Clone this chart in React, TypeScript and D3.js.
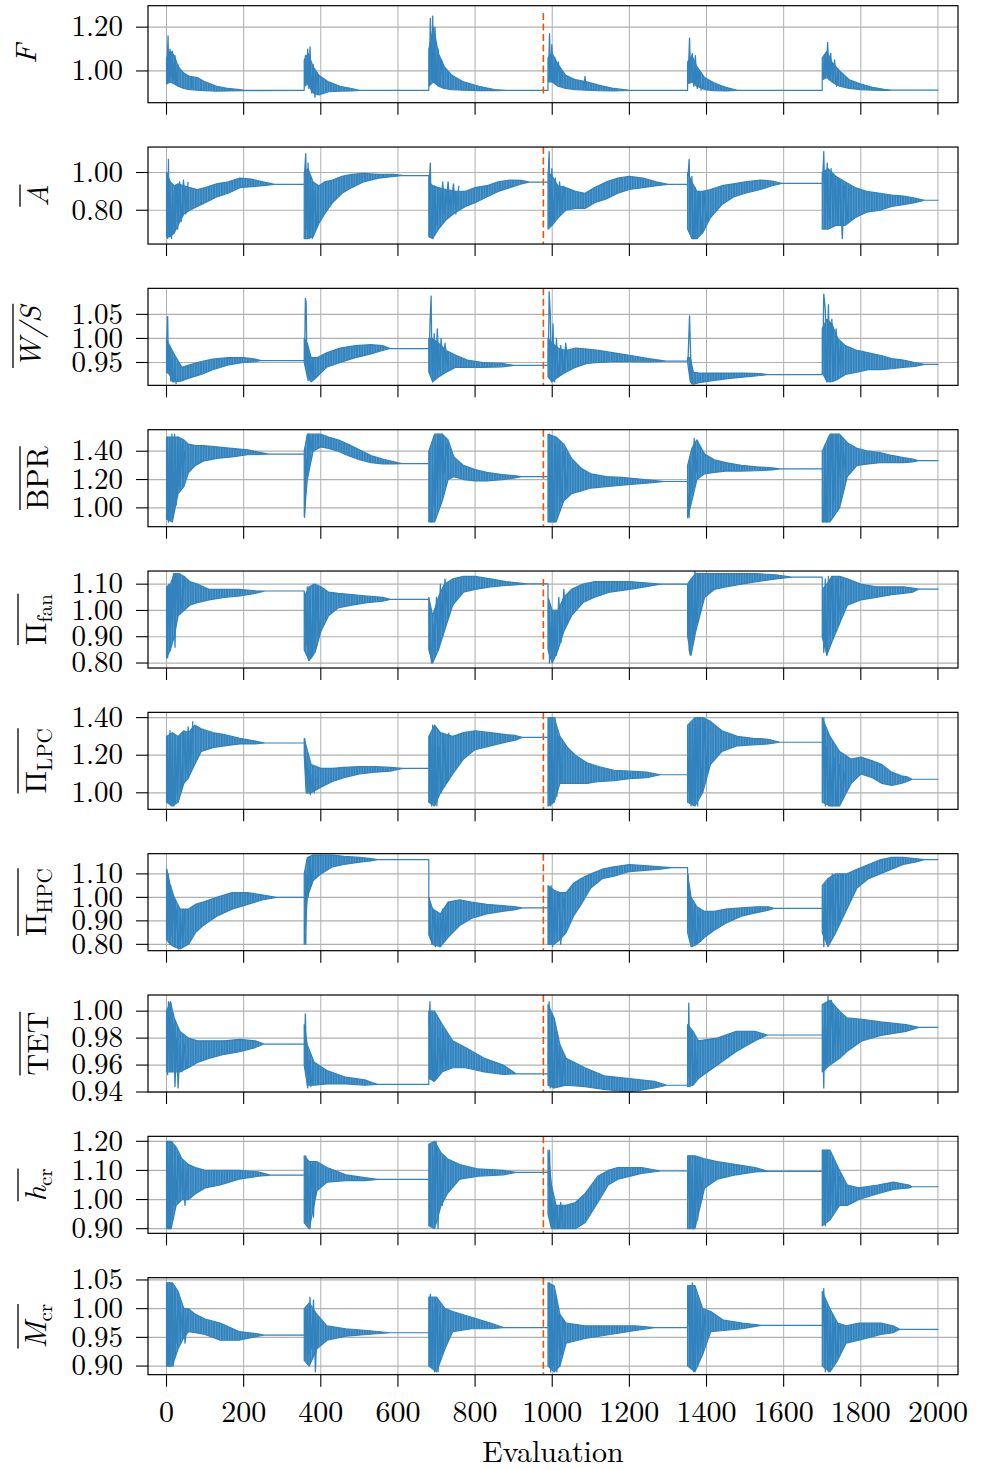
import React, { useEffect, useRef } from "react";
import * as d3 from "d3";

type Band = [number, number, number][];
type Pts = [number, number][];

const X_TICKS = [0, 200, 400, 600, 800, 1000, 1200, 1400, 1600, 1800, 2000];
const DASH_X = 977;

// ---------- F ----------
const F_DOMAIN = [0.855, 1.298];
const F_TICKS = [1.0, 1.2];
const F_DASH = [0.89, 1.265];
const F_BAND: Band = [
  [0, 0.94, 1.06], [10, 0.95, 1.09], [20, 0.94, 1.07], [30, 0.93, 1.02], [45, 0.92, 0.99], [60, 0.915, 0.975], [80, 0.912, 0.97], [100, 0.91, 0.95], [130, 0.908, 0.93], [160, 0.909, 0.92], [200, 0.91, 0.912], [357, 0.911, 0.911],
  [357, 0.93, 1.05], [367, 0.94, 1.08], [380, 0.9, 1.02], [395, 0.89, 0.98], [420, 0.905, 0.95], [450, 0.908, 0.93], [480, 0.909, 0.92], [500, 0.911, 0.911], [680, 0.911, 0.911],
  [680, 0.93, 1.1], [692, 0.95, 1.2], [705, 0.93, 1.08], [720, 0.92, 1.02], [740, 0.915, 0.98], [770, 0.912, 0.95], [810, 0.91, 0.93], [850, 0.91, 0.915], [880, 0.911, 0.911], [989, 0.911, 0.911],
  [989, 0.95, 1.06], [1000, 0.95, 1.08], [1015, 0.93, 1.03], [1035, 0.92, 0.98], [1060, 0.915, 0.96], [1090, 0.912, 0.95], [1120, 0.91, 0.935], [1160, 0.909, 0.92], [1200, 0.911, 0.911], [1351, 0.911, 0.911],
  [1351, 0.94, 1.04], [1362, 0.95, 1.07], [1375, 0.93, 1.02], [1395, 0.915, 0.97], [1420, 0.91, 0.945], [1450, 0.909, 0.925], [1480, 0.911, 0.911], [1700, 0.911, 0.911],
  [1700, 0.96, 1.06], [1712, 0.97, 1.09], [1725, 0.95, 1.04], [1745, 0.93, 1.0], [1770, 0.92, 0.96], [1800, 0.915, 0.94], [1830, 0.912, 0.925], [1860, 0.911, 0.916], [1880, 0.912, 0.912], [2000, 0.912, 0.912],
];
const F_SPIKES: Pts = [
  [2, 1.05], [4, 1.16], [6, 0.95], [9, 1.1], [12, 0.97], [15, 1.09], [18, 0.96], [22, 1.07], [26, 0.94], [30, 1.03],
  [62, 0.92], [64, 0.975], [66, 0.92],
  [358, 0.93], [360, 1.07], [363, 0.95], [366, 1.1], [369, 0.92], [372, 1.11], [376, 0.9], [380, 1.03], [385, 0.88], [390, 0.99], [395, 0.91],
  [681, 0.93], [684, 1.24], [687, 0.96], [690, 1.25], [693, 0.95], [696, 1.2], [700, 0.94], [704, 1.1], [708, 0.93], [713, 1.05], [718, 0.92],
  [990, 0.95], [993, 1.17], [996, 0.96], [999, 1.12], [1003, 0.95], [1007, 1.06], [1011, 0.95], [1016, 1.04], [1021, 0.93], [1026, 1.0],
  [1082, 0.92], [1085, 0.975], [1088, 0.92],
  [1352, 0.94], [1356, 1.15], [1359, 0.95], [1363, 1.08], [1367, 0.93], [1371, 1.07], [1376, 0.92], [1381, 1.0], [1386, 0.91],
  [1702, 0.96], [1706, 1.06], [1710, 0.98], [1714, 1.13], [1718, 0.96], [1722, 1.08], [1727, 0.95], [1732, 1.05], [1737, 0.93], [1742, 1.01],
];

// ---------- A ----------
const A_DOMAIN = [0.621, 1.135];
const A_TICKS = [0.8, 1.0];
const A_DASH = [0.621, 1.135];
const A_BAND: Band = [
  [0, 0.66, 1.0], [10, 0.66, 0.95], [20, 0.68, 0.93], [30, 0.72, 0.94], [45, 0.78, 0.93], [60, 0.8, 0.92], [80, 0.82, 0.91], [100, 0.84, 0.92], [130, 0.87, 0.94], [160, 0.89, 0.95], [190, 0.92, 0.97], [220, 0.925, 0.965], [250, 0.93, 0.95], [280, 0.937, 0.937], [357, 0.937, 0.937],
  [357, 0.65, 1.0], [367, 0.65, 1.02], [380, 0.66, 0.95], [395, 0.73, 0.93], [410, 0.78, 0.95], [430, 0.84, 0.96], [455, 0.89, 0.98], [480, 0.92, 0.99], [510, 0.95, 0.995], [550, 0.97, 0.99], [590, 0.98, 0.99], [615, 0.984, 0.984], [680, 0.984, 0.984],
  [680, 0.66, 0.95], [690, 0.65, 0.93], [705, 0.7, 0.92], [725, 0.75, 0.91], [750, 0.79, 0.9], [775, 0.82, 0.9], [800, 0.84, 0.92], [830, 0.87, 0.93], [860, 0.9, 0.95], [890, 0.92, 0.96], [920, 0.94, 0.958], [940, 0.949, 0.949], [989, 0.949, 0.949],
  [989, 0.7, 1.0], [1000, 0.72, 0.98], [1015, 0.76, 0.93], [1035, 0.8, 0.92], [1060, 0.81, 0.9], [1085, 0.81, 0.89], [1110, 0.84, 0.92], [1140, 0.86, 0.95], [1170, 0.89, 0.97], [1200, 0.91, 0.98], [1235, 0.92, 0.97], [1270, 0.93, 0.95], [1300, 0.937, 0.937], [1351, 0.937, 0.937],
  [1351, 0.7, 1.0], [1362, 0.65, 0.95], [1375, 0.65, 0.9], [1390, 0.68, 0.9], [1410, 0.76, 0.91], [1440, 0.83, 0.93], [1470, 0.87, 0.94], [1500, 0.89, 0.95], [1540, 0.91, 0.96], [1570, 0.93, 0.955], [1595, 0.942, 0.942], [1700, 0.942, 0.942],
  [1700, 0.7, 1.0], [1715, 0.7, 1.02], [1735, 0.72, 0.98], [1760, 0.72, 0.95], [1785, 0.76, 0.92], [1815, 0.79, 0.9], [1850, 0.8, 0.89], [1880, 0.82, 0.88], [1910, 0.83, 0.875], [1940, 0.84, 0.865], [1965, 0.853, 0.853], [2000, 0.853, 0.853],
];
const A_SPIKES: Pts = [
  [1, 1.0], [3, 0.65], [5, 1.07], [7, 0.66], [10, 0.85], [13, 0.65], [16, 0.9], [20, 0.68], [25, 0.93], [29, 0.7], [34, 0.95], [38, 0.74], [44, 0.96], [50, 0.78], [56, 0.95],
  [358, 1.0], [361, 1.1], [364, 0.7], [367, 1.05], [370, 0.65], [374, 0.95], [378, 0.65], [383, 0.9], [388, 0.7], [393, 0.88],
  [681, 0.95], [684, 1.05], [687, 0.68], [690, 0.65], [694, 0.93], [699, 0.72], [704, 0.92], [710, 0.75], [716, 0.95], [722, 0.78], [730, 0.95], [736, 0.8], [744, 0.94], [750, 0.78], [758, 0.93],
  [990, 1.0], [992, 1.11], [995, 0.72], [999, 1.02], [1003, 0.74], [1008, 0.97], [1013, 0.78], [1019, 0.95], [1025, 0.8], [1030, 0.93],
  [1352, 0.98], [1355, 1.07], [1358, 0.7], [1362, 0.98], [1366, 0.65], [1371, 0.92], [1376, 0.65], [1381, 0.9], [1387, 0.68], [1393, 0.9], [1400, 0.74],
  [1701, 0.95], [1704, 1.11], [1708, 0.72], [1713, 1.05], [1718, 0.75], [1723, 1.02], [1728, 0.76], [1734, 0.98], [1740, 0.72], [1746, 0.96], [1752, 0.65], [1758, 0.93], [1764, 0.74], [1770, 0.92],
];

// ---------- W/S ----------
const WS_DOMAIN = [0.9025, 1.104];
const WS_TICKS = [0.95, 1.0, 1.05];
const WS_DASH = [0.9025, 1.104];
const WS_BAND: Band = [
  [0, 0.93, 1.0], [8, 0.925, 0.985], [15, 0.91, 0.975], [25, 0.91, 0.96], [40, 0.912, 0.94], [60, 0.918, 0.945], [90, 0.925, 0.952], [120, 0.935, 0.957], [160, 0.945, 0.96], [200, 0.95, 0.96], [230, 0.952, 0.957], [245, 0.954, 0.954], [357, 0.954, 0.954],
  [357, 0.95, 1.0], [365, 0.92, 0.99], [375, 0.91, 0.96], [390, 0.92, 0.96], [415, 0.94, 0.97], [450, 0.95, 0.98], [490, 0.96, 0.985], [530, 0.968, 0.987], [560, 0.975, 0.985], [580, 0.979, 0.979], [680, 0.979, 0.979],
  [680, 0.93, 1.0], [690, 0.91, 1.0], [705, 0.92, 0.99], [725, 0.93, 0.975], [750, 0.94, 0.965], [780, 0.94, 0.955], [820, 0.94, 0.95], [870, 0.941, 0.948], [900, 0.944, 0.944], [989, 0.944, 0.944],
  [989, 0.92, 1.0], [1000, 0.91, 0.99], [1015, 0.92, 0.98], [1035, 0.93, 0.975], [1060, 0.94, 0.98], [1090, 0.948, 0.978], [1120, 0.95, 0.975], [1160, 0.952, 0.97], [1200, 0.952, 0.965], [1250, 0.951, 0.958], [1295, 0.953, 0.953], [1351, 0.953, 0.953],
  [1351, 0.95, 0.96], [1358, 0.91, 0.96], [1366, 0.905, 0.93], [1380, 0.908, 0.928], [1420, 0.913, 0.928], [1460, 0.917, 0.928], [1500, 0.92, 0.928], [1540, 0.923, 0.927], [1560, 0.925, 0.925], [1700, 0.925, 0.925],
  [1700, 0.93, 1.02], [1712, 0.91, 1.04], [1725, 0.91, 1.03], [1740, 0.915, 1.0], [1760, 0.925, 0.985], [1790, 0.93, 0.975], [1820, 0.935, 0.97], [1850, 0.935, 0.965], [1880, 0.937, 0.958], [1910, 0.94, 0.955], [1940, 0.942, 0.95], [1965, 0.946, 0.946], [2000, 0.946, 0.946],
];
const WS_SPIKES: Pts = [
  [1, 1.0], [3, 1.045], [5, 0.93], [8, 0.985], [11, 0.912], [14, 0.96], [17, 0.91], [21, 0.94], [25, 0.905],
  [358, 0.955], [360, 1.083], [362, 1.075], [364, 0.95], [367, 0.912], [370, 0.97], [374, 0.915], [378, 0.96], [383, 0.92],
  [681, 0.95], [683, 1.03], [686, 1.088], [688, 0.96], [690, 0.91], [694, 1.01], [698, 0.92], [702, 1.02], [707, 0.935], [712, 1.0], [717, 0.94], [722, 0.99], [728, 0.945],
  [990, 0.95], [992, 1.097], [995, 1.05], [998, 0.91], [1002, 1.03], [1006, 0.91], [1011, 1.0], [1016, 0.92], [1022, 0.985], [1028, 0.93], [1035, 0.99], [1042, 0.94],
  [1352, 0.953], [1356, 1.047], [1359, 0.96], [1362, 0.905],
  [1701, 0.93], [1704, 1.092], [1708, 1.06], [1712, 0.91], [1716, 1.07], [1720, 0.91], [1725, 1.04], [1730, 0.92], [1736, 1.02], [1742, 0.93], [1748, 0.99], [1755, 0.935],
];

// ---------- BPR ----------
const BPR_DOMAIN = [0.867, 1.552];
const BPR_TICKS = [1.0, 1.2, 1.4];
const BPR_DASH = [0.867, 1.552];
const BPR_BAND: Band = [
  [0, 0.92, 1.5], [15, 0.9, 1.5], [30, 1.1, 1.5], [45, 1.15, 1.48], [57, 1.25, 1.45], [75, 1.3, 1.44], [95, 1.33, 1.44], [130, 1.35, 1.43], [170, 1.36, 1.42], [210, 1.375, 1.41], [245, 1.378, 1.39], [265, 1.38, 1.38], [357, 1.38, 1.38],
  [357, 0.94, 1.4], [365, 1.2, 1.52], [380, 1.4, 1.52], [400, 1.43, 1.52], [420, 1.42, 1.5], [445, 1.4, 1.48], [470, 1.37, 1.45], [500, 1.34, 1.41], [530, 1.32, 1.37], [560, 1.31, 1.345], [590, 1.31, 1.325], [610, 1.312, 1.312], [680, 1.312, 1.312],
  [680, 0.9, 1.4], [695, 0.9, 1.52], [715, 1.05, 1.52], [730, 1.2, 1.48], [745, 1.22, 1.36], [770, 1.2, 1.3], [800, 1.19, 1.27], [830, 1.19, 1.25], [870, 1.2, 1.235], [900, 1.21, 1.228], [920, 1.221, 1.221], [989, 1.221, 1.221],
  [989, 0.9, 1.52], [1010, 0.9, 1.5], [1030, 1.05, 1.45], [1050, 1.1, 1.35], [1075, 1.12, 1.28], [1100, 1.14, 1.24], [1140, 1.15, 1.22], [1180, 1.16, 1.215], [1220, 1.17, 1.205], [1260, 1.178, 1.195], [1290, 1.186, 1.186], [1351, 1.186, 1.186],
  [1351, 0.93, 1.3], [1362, 1.05, 1.42], [1375, 1.2, 1.48], [1395, 1.24, 1.38], [1420, 1.25, 1.34], [1450, 1.26, 1.32], [1490, 1.26, 1.3], [1530, 1.262, 1.29], [1570, 1.268, 1.283], [1590, 1.275, 1.275], [1700, 1.275, 1.275],
  [1700, 0.9, 1.4], [1720, 0.9, 1.52], [1745, 1.0, 1.52], [1765, 1.22, 1.46], [1790, 1.3, 1.42], [1820, 1.31, 1.4], [1850, 1.32, 1.39], [1880, 1.32, 1.37], [1910, 1.32, 1.355], [1935, 1.325, 1.345], [1950, 1.333, 1.333], [2000, 1.333, 1.333],
];
const BPR_SPIKES: Pts = [
  [1, 1.0], [3, 1.5], [5, 0.9], [8, 1.45], [11, 0.92], [14, 1.52], [17, 0.95], [21, 1.52], [25, 1.02], [29, 1.5], [33, 1.15], [37, 1.45], [42, 1.2], [47, 1.4],
  [358, 0.93], [362, 1.35], [365, 1.2], [369, 1.52], [374, 1.4], [379, 1.52],
  [681, 1.0], [684, 0.92], [687, 0.9], [690, 1.3], [694, 1.0], [698, 1.45], [702, 1.1], [706, 1.52], [710, 1.2], [715, 1.52], [720, 1.25], [726, 1.45], [732, 1.22],
  [990, 1.0], [993, 1.52], [996, 0.9], [1000, 1.5], [1004, 0.9], [1008, 1.45], [1013, 0.98], [1018, 1.45], [1023, 1.05], [1029, 1.4], [1035, 1.1], [1042, 1.35],
  [1352, 1.1], [1355, 0.93], [1359, 1.3], [1363, 1.1], [1368, 1.49], [1373, 1.25], [1378, 1.45],
  [1701, 1.0], [1704, 0.9], [1708, 1.45], [1712, 0.9], [1716, 1.5], [1720, 0.98], [1725, 1.52], [1730, 1.05], [1736, 1.52], [1742, 1.15], [1748, 1.5], [1755, 1.25], [1762, 1.45],
];

// ---------- Pi fan ----------
const FAN_DOMAIN = [0.781, 1.15];
const FAN_TICKS = [0.8, 0.9, 1.0, 1.1];
const FAN_DASH = [0.8, 1.12];
const FAN_BAND: Band = [
  [0, 0.82, 1.09], [10, 0.85, 1.1], [20, 0.9, 1.14], [30, 0.98, 1.14], [45, 1.0, 1.13], [60, 1.02, 1.11], [80, 1.03, 1.1], [110, 1.04, 1.08], [150, 1.05, 1.08], [190, 1.055, 1.08], [230, 1.065, 1.075], [255, 1.074, 1.074], [357, 1.074, 1.074],
  [357, 0.85, 1.05], [370, 0.81, 1.09], [385, 0.84, 1.1], [400, 0.92, 1.09], [420, 0.98, 1.07], [445, 1.01, 1.065], [480, 1.02, 1.06], [520, 1.03, 1.055], [560, 1.035, 1.05], [580, 1.042, 1.042], [680, 1.042, 1.042],
  [680, 0.85, 1.05], [690, 0.8, 0.98], [705, 0.85, 1.05], [720, 0.92, 1.1], [742, 1.02, 1.12], [770, 1.07, 1.13], [800, 1.08, 1.13], [840, 1.09, 1.12], [880, 1.095, 1.11], [910, 1.098, 1.105], [935, 1.101, 1.101], [989, 1.101, 1.101],
  [989, 0.85, 1.05], [1000, 0.8, 1.0], [1015, 0.85, 1.0], [1030, 0.92, 1.05], [1050, 0.98, 1.08], [1080, 1.03, 1.1], [1110, 1.05, 1.11], [1150, 1.07, 1.11], [1200, 1.08, 1.11], [1240, 1.09, 1.105], [1280, 1.1, 1.1], [1351, 1.1, 1.1],
  [1351, 0.9, 1.1], [1360, 0.83, 1.12], [1372, 0.92, 1.14], [1395, 1.05, 1.14], [1420, 1.08, 1.14], [1450, 1.09, 1.14], [1490, 1.1, 1.14], [1530, 1.11, 1.14], [1580, 1.12, 1.135], [1620, 1.127, 1.127], [1700, 1.127, 1.127],
  [1700, 0.9, 1.08], [1712, 0.83, 1.1], [1725, 0.88, 1.13], [1745, 0.95, 1.13], [1765, 1.02, 1.12], [1800, 1.04, 1.1], [1840, 1.05, 1.09], [1880, 1.06, 1.09], [1910, 1.065, 1.09], [1935, 1.07, 1.085], [1950, 1.081, 1.081], [2000, 1.081, 1.081],
];
const FAN_SPIKES: Pts = [
  [1, 1.09], [3, 0.82], [6, 1.1], [9, 0.85], [12, 1.1], [15, 0.94], [18, 1.14], [22, 0.86], [26, 1.14], [30, 0.98], [34, 1.14], [40, 1.0], [46, 1.12],
  [358, 1.07], [362, 0.87], [365, 1.09], [368, 0.81], [372, 1.05], [376, 0.82], [380, 1.1], [385, 0.85], [390, 1.09], [396, 0.9], [403, 1.08],
  [681, 1.0], [684, 0.86], [687, 0.8], [691, 0.95], [695, 0.82], [700, 1.05], [705, 0.85], [710, 1.1], [716, 0.9], [722, 1.12], [730, 0.98],
  [990, 1.0], [993, 0.8], [997, 0.95], [1001, 0.81], [1006, 1.0], [1011, 0.83], [1017, 1.05], [1023, 0.88], [1030, 1.08], [1037, 0.95],
  [1352, 1.1], [1355, 0.85], [1358, 0.83], [1362, 1.12], [1366, 0.88], [1370, 1.15], [1375, 0.95], [1380, 1.14],
  [1701, 1.08], [1704, 0.84], [1708, 1.12], [1712, 0.83], [1716, 1.13], [1720, 0.9], [1725, 1.13], [1730, 0.92], [1736, 1.12], [1742, 0.97], [1750, 1.11],
];

// ---------- Pi LPC ----------
const LPC_DOMAIN = [0.912, 1.428];
const LPC_TICKS = [1.0, 1.2, 1.4];
const LPC_DASH = [0.912, 1.428];
const LPC_BAND: Band = [
  [0, 0.95, 1.3], [15, 0.93, 1.32], [30, 0.95, 1.3], [45, 1.05, 1.33], [57, 1.08, 1.32], [73, 1.15, 1.36], [90, 1.22, 1.34], [120, 1.24, 1.32], [150, 1.25, 1.31], [190, 1.26, 1.29], [230, 1.26, 1.275], [255, 1.265, 1.265], [357, 1.265, 1.265],
  [357, 1.2, 1.29], [362, 1.0, 1.25], [375, 1.0, 1.15], [400, 1.03, 1.13], [430, 1.06, 1.13], [460, 1.08, 1.135], [500, 1.1, 1.14], [540, 1.11, 1.14], [580, 1.115, 1.135], [612, 1.13, 1.13], [680, 1.13, 1.13],
  [680, 0.95, 1.3], [695, 0.93, 1.36], [710, 1.0, 1.32], [742, 1.1, 1.3], [770, 1.18, 1.32], [800, 1.23, 1.33], [840, 1.25, 1.32], [880, 1.27, 1.31], [905, 1.28, 1.305], [922, 1.295, 1.295], [989, 1.295, 1.295],
  [989, 0.93, 1.4], [1005, 0.95, 1.4], [1020, 1.05, 1.3], [1040, 1.05, 1.24], [1060, 1.05, 1.2], [1090, 1.05, 1.16], [1120, 1.06, 1.14], [1160, 1.065, 1.12], [1200, 1.075, 1.115], [1245, 1.08, 1.11], [1280, 1.096, 1.096], [1351, 1.096, 1.096],
  [1351, 0.95, 1.36], [1370, 0.93, 1.4], [1390, 1.0, 1.4], [1410, 1.15, 1.38], [1440, 1.22, 1.33], [1480, 1.25, 1.3], [1520, 1.255, 1.29], [1560, 1.26, 1.285], [1590, 1.269, 1.269], [1700, 1.269, 1.269],
  [1700, 0.95, 1.4], [1720, 0.93, 1.3], [1745, 0.93, 1.22], [1775, 1.05, 1.18], [1800, 1.1, 1.19], [1830, 1.08, 1.17], [1855, 1.05, 1.15], [1880, 1.04, 1.11], [1905, 1.05, 1.09], [1920, 1.06, 1.085], [1933, 1.072, 1.072], [2000, 1.072, 1.072],
];
const LPC_SPIKES: Pts = [
  [1, 1.0], [3, 1.3], [6, 0.95], [9, 1.33], [12, 0.93], [15, 1.27], [19, 0.93], [23, 1.25], [28, 0.98], [33, 1.3], [38, 1.02], [44, 1.32], [50, 1.1], [56, 1.35], [62, 1.12], [68, 1.38],
  [358, 1.29], [362, 1.15], [365, 1.0], [369, 1.12], [373, 0.99], [378, 1.1], [383, 1.0], [389, 1.08],
  [681, 0.98], [684, 1.3], [687, 0.93], [690, 1.36], [693, 0.95], [697, 1.32], [701, 0.93], [706, 1.25], [712, 1.0], [718, 1.3], [725, 1.05], [732, 1.32],
  [990, 1.0], [993, 1.4], [996, 0.93], [999, 1.38], [1003, 0.95], [1007, 1.4], [1012, 0.98], [1017, 1.3], [1022, 1.05], [1028, 1.25],
  [1352, 1.0], [1356, 1.35], [1360, 0.93], [1364, 1.38], [1368, 0.95], [1372, 1.4], [1377, 0.93], [1382, 1.4], [1388, 1.0], [1394, 1.38], [1400, 1.1], [1406, 1.35],
  [1701, 1.0], [1704, 1.4], [1708, 0.93], [1712, 1.25], [1716, 0.93], [1721, 1.2], [1726, 0.93], [1732, 1.18], [1738, 0.93], [1745, 1.15], [1752, 0.98], [1760, 1.12],
];

// ---------- Pi HPC ----------
const HPC_DOMAIN = [0.773, 1.186];
const HPC_TICKS = [0.8, 0.9, 1.0, 1.1];
const HPC_DASH = [0.773, 1.186];
const HPC_BAND: Band = [
  [0, 0.82, 1.12], [10, 0.8, 1.05], [20, 0.79, 1.0], [35, 0.78, 0.95], [57, 0.8, 0.95], [75, 0.85, 0.97], [95, 0.88, 0.98], [130, 0.92, 1.0], [170, 0.95, 1.02], [210, 0.97, 1.02], [250, 0.99, 1.01], [285, 1.0, 1.0], [357, 1.0, 1.0],
  [357, 0.8, 1.1], [365, 1.0, 1.17], [380, 1.07, 1.18], [400, 1.1, 1.18], [430, 1.13, 1.18], [460, 1.14, 1.175], [500, 1.15, 1.17], [530, 1.155, 1.165], [547, 1.161, 1.161], [680, 1.161, 1.161],
  [680, 0.84, 1.0], [690, 0.8, 0.95], [710, 0.79, 0.93], [730, 0.83, 0.98], [760, 0.88, 0.99], [790, 0.91, 0.98], [830, 0.93, 0.97], [870, 0.94, 0.965], [905, 0.948, 0.96], [922, 0.955, 0.955], [989, 0.955, 0.955],
  [989, 0.8, 1.05], [1005, 0.8, 1.03], [1020, 0.82, 1.02], [1036, 0.85, 1.02], [1055, 0.92, 1.06], [1075, 0.97, 1.08], [1100, 1.04, 1.1], [1130, 1.08, 1.12], [1160, 1.09, 1.13], [1200, 1.11, 1.14], [1240, 1.115, 1.135], [1280, 1.12, 1.13], [1310, 1.127, 1.127], [1351, 1.127, 1.127],
  [1351, 0.85, 1.1], [1360, 0.79, 1.0], [1375, 0.8, 0.96], [1395, 0.83, 0.94], [1420, 0.86, 0.94], [1450, 0.89, 0.95], [1490, 0.92, 0.955], [1530, 0.935, 0.96], [1560, 0.945, 0.96], [1575, 0.953, 0.953], [1700, 0.953, 0.953],
  [1700, 0.85, 1.05], [1715, 0.79, 1.08], [1735, 0.85, 1.1], [1764, 0.95, 1.1], [1790, 1.04, 1.12], [1820, 1.08, 1.14], [1850, 1.1, 1.16], [1880, 1.12, 1.17], [1910, 1.14, 1.17], [1940, 1.15, 1.165], [1965, 1.161, 1.161], [2000, 1.161, 1.161],
];
const HPC_SPIKES: Pts = [
  [1, 1.12], [3, 0.82], [5, 1.1], [8, 0.8], [11, 1.05], [14, 0.84], [18, 1.0], [22, 0.79], [26, 0.95], [31, 0.78], [36, 0.92], [42, 0.8], [48, 0.95],
  [358, 0.85], [361, 0.8], [364, 1.1], [367, 1.0], [371, 1.17], [375, 1.05], [380, 1.18],
  [681, 1.0], [684, 0.86], [688, 0.8], [692, 0.95], [697, 0.79], [703, 0.92], [709, 0.79], [716, 0.95], [723, 0.82], [731, 0.98],
  [990, 1.0], [993, 0.8], [997, 1.05], [1001, 0.79], [1006, 1.02], [1011, 0.85], [1016, 1.02], [1022, 0.8], [1029, 1.0], [1036, 0.88],
  [1352, 1.1], [1355, 0.85], [1359, 1.0], [1363, 0.79], [1368, 0.95], [1373, 0.8], [1379, 0.92], [1385, 0.81],
  [1701, 1.0], [1704, 0.79], [1708, 1.05], [1712, 0.82], [1716, 1.08], [1721, 0.85], [1726, 1.1], [1732, 0.88], [1738, 1.08], [1745, 0.9], [1752, 1.1],
];

// ---------- TET ----------
const TET_DOMAIN = [0.94, 1.012];
const TET_TICKS = [0.94, 0.96, 0.98, 1.0];
const TET_DASH = [0.94, 1.012];
const TET_BAND: Band = [
  [0, 0.955, 1.0], [10, 0.955, 1.007], [20, 0.955, 0.995], [35, 0.955, 0.985], [57, 0.958, 0.98], [80, 0.962, 0.978], [110, 0.965, 0.978], [150, 0.968, 0.978], [190, 0.97, 0.979], [230, 0.973, 0.978], [253, 0.9756, 0.9756], [357, 0.9756, 0.9756],
  [357, 0.96, 0.99], [365, 0.945, 0.975], [383, 0.945, 0.962], [416, 0.946, 0.956], [465, 0.946, 0.951], [514, 0.945, 0.949], [547, 0.9456, 0.9456], [680, 0.9456, 0.9456],
  [680, 0.95, 1.0], [695, 0.948, 1.0], [715, 0.955, 0.99], [742, 0.958, 0.978], [775, 0.958, 0.973], [824, 0.955, 0.965], [873, 0.953, 0.96], [906, 0.9535, 0.9535], [989, 0.9535, 0.9535],
  [989, 0.945, 1.005], [1005, 0.943, 0.995], [1020, 0.944, 0.975], [1036, 0.945, 0.965], [1085, 0.944, 0.958], [1134, 0.942, 0.952], [1199, 0.94, 0.95], [1265, 0.943, 0.948], [1297, 0.945, 0.945], [1351, 0.945, 0.945],
  [1351, 0.944, 0.99], [1365, 0.945, 0.985], [1379, 0.95, 0.978], [1428, 0.96, 0.98], [1477, 0.97, 0.985], [1526, 0.978, 0.985], [1558, 0.9823, 0.9823], [1700, 0.9823, 0.9823],
  [1700, 0.955, 1.005], [1720, 0.96, 1.008], [1745, 0.965, 1.0], [1764, 0.97, 0.995], [1803, 0.978, 0.994], [1852, 0.982, 0.992], [1917, 0.985, 0.99], [1950, 0.988, 0.988], [2000, 0.988, 0.988],
];
const TET_SPIKES: Pts = [
  [1, 1.0], [3, 0.953], [5, 1.007], [8, 0.96], [11, 1.006], [14, 0.955], [18, 0.99], [22, 0.944], [26, 0.98], [30, 0.943], [35, 0.975], [40, 0.955], [46, 0.975], [52, 0.958],
  [358, 0.975], [360, 0.998], [363, 0.96], [366, 0.943], [370, 0.963], [374, 0.944], [379, 0.958],
  [681, 0.99], [683, 1.007], [686, 0.95], [689, 0.99], [692, 0.948], [696, 0.985], [700, 0.95], [705, 0.98], [711, 0.955], [717, 0.985], [724, 0.958], [732, 0.978],
  [990, 0.96], [992, 1.007], [995, 0.943], [999, 0.995], [1003, 0.943], [1008, 0.985], [1013, 0.944], [1019, 0.975], [1025, 0.945], [1032, 0.968],
  [1352, 0.95], [1354, 1.006], [1357, 0.944], [1361, 0.985], [1365, 0.946], [1370, 0.978], [1376, 0.95],
  [1701, 0.99], [1704, 0.943], [1707, 1.005], [1711, 0.96], [1715, 1.011], [1719, 0.963], [1724, 1.008], [1729, 0.966], [1735, 1.0], [1741, 0.97], [1748, 0.997],
];

// ---------- h_cr ----------
const HCR_DOMAIN = [0.884, 1.217];
const HCR_TICKS = [0.9, 1.0, 1.1, 1.2];
const HCR_DASH = [0.884, 1.217];
const HCR_BAND: Band = [
  [0, 0.9, 1.2], [12, 0.9, 1.2], [25, 0.98, 1.18], [40, 1.0, 1.14], [57, 1.0, 1.12], [75, 1.02, 1.11], [100, 1.04, 1.1], [139, 1.05, 1.1], [188, 1.07, 1.1], [237, 1.08, 1.095], [269, 1.084, 1.084], [357, 1.084, 1.084],
  [357, 0.92, 1.15], [370, 0.9, 1.13], [390, 1.03, 1.13], [416, 1.06, 1.11], [465, 1.065, 1.085], [514, 1.065, 1.075], [547, 1.069, 1.069], [680, 1.069, 1.069],
  [680, 0.91, 1.19], [695, 0.9, 1.2], [712, 0.98, 1.16], [728, 1.02, 1.14], [760, 1.07, 1.12], [808, 1.08, 1.105], [873, 1.085, 1.1], [906, 1.093, 1.093], [989, 1.093, 1.093],
  [989, 0.95, 1.17], [998, 0.9, 1.05], [1010, 0.9, 0.98], [1035, 0.9, 0.98], [1060, 0.9, 0.99], [1085, 0.92, 1.02], [1118, 0.99, 1.08], [1145, 1.05, 1.1], [1170, 1.07, 1.11], [1232, 1.09, 1.11], [1281, 1.098, 1.098], [1351, 1.098, 1.098],
  [1351, 0.9, 1.15], [1370, 0.9, 1.15], [1395, 1.04, 1.14], [1428, 1.07, 1.13], [1477, 1.085, 1.12], [1526, 1.095, 1.11], [1558, 1.097, 1.097], [1700, 1.097, 1.097],
  [1700, 0.91, 1.17], [1720, 0.93, 1.17], [1745, 0.98, 1.1], [1765, 0.98, 1.05], [1795, 1.0, 1.04], [1844, 1.02, 1.05], [1884, 1.035, 1.06], [1925, 1.04, 1.05], [1933, 1.044, 1.044], [2000, 1.044, 1.044],
];
const HCR_SPIKES: Pts = [
  [1, 0.94], [3, 1.2], [5, 0.9], [8, 1.18], [11, 0.9], [14, 1.2], [18, 0.98], [22, 1.18], [26, 1.0], [31, 1.15], [36, 1.02], [42, 1.13], [48, 0.98], [54, 1.1],
  [358, 1.08], [361, 1.15], [364, 0.92], [368, 1.08], [372, 0.9], [376, 1.12], [381, 0.94], [386, 1.13],
  [681, 1.0], [684, 1.19], [687, 0.91], [691, 1.15], [695, 0.92], [699, 1.2], [704, 0.9], [709, 1.16], [715, 0.98], [721, 1.15],
  [990, 1.05], [993, 1.17], [997, 0.92], [1001, 1.0], [1005, 0.9], [1010, 0.98], [1015, 0.9], [1022, 0.99], [1028, 0.9],
  [1352, 1.0], [1355, 1.15], [1359, 0.92], [1363, 1.12], [1367, 0.9], [1372, 1.14], [1377, 0.93], [1383, 1.13], [1389, 1.0],
  [1701, 0.92], [1704, 1.17], [1708, 0.91], [1712, 1.17], [1716, 0.95], [1721, 1.15], [1726, 0.98], [1732, 1.1], [1738, 0.97], [1745, 1.08],
];

// ---------- M_cr ----------
const MCR_DOMAIN = [0.885, 1.054];
const MCR_TICKS = [0.9, 0.95, 1.0, 1.05];
const MCR_DASH = [0.885, 1.054];
const MCR_BAND: Band = [
  [0, 0.9, 1.045], [15, 0.9, 1.045], [30, 0.93, 1.03], [45, 0.95, 1.0], [57, 0.96, 1.0], [75, 0.958, 0.99], [100, 0.955, 0.982], [139, 0.945, 0.975], [188, 0.945, 0.96], [237, 0.952, 0.956], [253, 0.954, 0.954], [357, 0.954, 0.954],
  [357, 0.91, 1.0], [370, 0.9, 1.01], [390, 0.93, 0.99], [416, 0.945, 0.97], [465, 0.952, 0.965], [520, 0.955, 0.962], [579, 0.958, 0.958], [680, 0.958, 0.958],
  [680, 0.9, 1.02], [700, 0.89, 1.02], [722, 0.93, 1.0], [742, 0.96, 0.995], [791, 0.965, 0.985], [840, 0.965, 0.975], [873, 0.967, 0.967], [989, 0.967, 0.967],
  [989, 0.9, 1.045], [1005, 0.89, 1.04], [1020, 0.9, 0.99], [1036, 0.94, 0.975], [1085, 0.948, 0.97], [1150, 0.955, 0.97], [1216, 0.962, 0.97], [1265, 0.967, 0.967], [1351, 0.967, 0.967],
  [1351, 0.9, 1.04], [1370, 0.89, 1.04], [1390, 0.92, 1.0], [1411, 0.96, 0.995], [1444, 0.962, 0.98], [1493, 0.965, 0.975], [1542, 0.971, 0.971], [1700, 0.971, 0.971],
  [1700, 0.9, 1.03], [1720, 0.89, 1.0], [1740, 0.91, 0.975], [1762, 0.94, 0.97], [1795, 0.945, 0.975], [1852, 0.955, 0.975], [1884, 0.958, 0.97], [1901, 0.964, 0.964], [2000, 0.964, 0.964],
];
const MCR_SPIKES: Pts = [
  [1, 0.95], [3, 1.045], [5, 0.9], [8, 1.045], [11, 0.91], [14, 1.045], [17, 0.9], [21, 1.04], [25, 0.94], [30, 1.02], [36, 0.955], [42, 1.0], [48, 0.94], [55, 0.99],
  [358, 0.98], [361, 0.91], [364, 1.0], [368, 0.92], [372, 1.02], [376, 0.93], [381, 1.015], [386, 0.89], [391, 0.98],
  [681, 0.95], [684, 1.025], [687, 0.9], [691, 1.0], [695, 0.89], [699, 1.01], [704, 0.89], [709, 0.99], [715, 0.92], [721, 1.0],
  [990, 0.97], [993, 1.045], [996, 0.89], [1000, 1.04], [1004, 0.9], [1008, 1.02], [1012, 0.89], [1017, 0.99], [1023, 0.92], [1030, 0.98],
  [1352, 0.97], [1355, 1.04], [1359, 0.9], [1363, 1.045], [1367, 0.89], [1372, 1.02], [1377, 0.9], [1383, 1.0], [1389, 0.93], [1396, 0.99],
  [1701, 0.97], [1704, 1.035], [1708, 0.89], [1712, 1.0], [1716, 0.89], [1721, 0.98], [1726, 0.9], [1732, 0.975], [1738, 0.92], [1745, 0.97],
];

type Part = { t: string; it?: boolean; sub?: boolean };
type Panel = {
  band: Band; spikes: Pts; ticks: number[]; domain: number[]; dash: number[];
  label: Part[]; bar: boolean; baseX: number;
};

const PANELS: Panel[] = [
  { band: F_BAND, spikes: F_SPIKES, ticks: F_TICKS, domain: F_DOMAIN, dash: F_DASH, label: [{ t: "F", it: true }], bar: false, baseX: 36 },
  { band: A_BAND, spikes: A_SPIKES, ticks: A_TICKS, domain: A_DOMAIN, dash: A_DASH, label: [{ t: "A", it: true }], bar: true, baseX: 48 },
  { band: WS_BAND, spikes: WS_SPIKES, ticks: WS_TICKS, domain: WS_DOMAIN, dash: WS_DASH, label: [{ t: "W/S", it: true }], bar: true, baseX: 41 },
  { band: BPR_BAND, spikes: BPR_SPIKES, ticks: BPR_TICKS, domain: BPR_DOMAIN, dash: BPR_DASH, label: [{ t: "BPR" }], bar: true, baseX: 48 },
  { band: FAN_BAND, spikes: FAN_SPIKES, ticks: FAN_TICKS, domain: FAN_DOMAIN, dash: FAN_DASH, label: [{ t: "Π" }, { t: "fan", sub: true }], bar: true, baseX: 46 },
  { band: LPC_BAND, spikes: LPC_SPIKES, ticks: LPC_TICKS, domain: LPC_DOMAIN, dash: LPC_DASH, label: [{ t: "Π" }, { t: "LPC", sub: true }], bar: true, baseX: 46 },
  { band: HPC_BAND, spikes: HPC_SPIKES, ticks: HPC_TICKS, domain: HPC_DOMAIN, dash: HPC_DASH, label: [{ t: "Π" }, { t: "HPC", sub: true }], bar: true, baseX: 46 },
  { band: TET_BAND, spikes: TET_SPIKES, ticks: TET_TICKS, domain: TET_DOMAIN, dash: TET_DASH, label: [{ t: "TET" }], bar: true, baseX: 48 },
  { band: HCR_BAND, spikes: HCR_SPIKES, ticks: HCR_TICKS, domain: HCR_DOMAIN, dash: HCR_DASH, label: [{ t: "h", it: true }, { t: "cr", sub: true }], bar: true, baseX: 46 },
  { band: MCR_BAND, spikes: MCR_SPIKES, ticks: MCR_TICKS, domain: MCR_DOMAIN, dash: MCR_DASH, label: [{ t: "M", it: true }, { t: "cr", sub: true }], bar: true, baseX: 46 },
];

const W = 987;
const H = 1470;
const LEFT = 148;
const RIGHT = 958;
const TOP0 = 5.7;
const STEP = 141.33;
const PH = 97;
const BLUE = "#3182bd";
const ORANGE = "#e6550d";
const GRID = "#b0b0b0";
const FONT = "'Latin Modern Roman', 'CMU Serif', 'Liberation Serif', serif";
const FS = 29;
const TICK = 12;

export default function App() {
  const ref = useRef<SVGSVGElement | null>(null);

  useEffect(() => {
    const svg = d3.select(ref.current);
    svg.selectAll("*").remove();
    const x = d3.scaleLinear().domain([-48, 2052]).range([LEFT, RIGHT]);
    const fmt = d3.format(".2f");

    // vertical-stripe texture for the dense noisy band
    const defs = svg.append("defs");
    const pat = defs.append("pattern").attr("id", "noise").attr("patternUnits", "userSpaceOnUse")
      .attr("width", 2.6).attr("height", 8);
    pat.append("rect").attr("x", 0).attr("y", 0).attr("width", 2.6).attr("height", 8).attr("fill", "#5a9fd0");
    pat.append("rect").attr("x", 0).attr("y", 0).attr("width", 1.8).attr("height", 8).attr("fill", BLUE);

    PANELS.forEach((p, i) => {
      const top = TOP0 + i * STEP;
      const bottom = top + PH;
      const y = d3.scaleLinear().domain(p.domain).range([bottom, top]);
      const g = svg.append("g");
      const clipId = `clip${i}`;
      g.append("clipPath").attr("id", clipId).append("rect")
        .attr("x", LEFT).attr("y", top).attr("width", RIGHT - LEFT).attr("height", PH);

      // grid
      g.selectAll(".vg").data(X_TICKS).enter().append("line")
        .attr("x1", (d) => x(d)).attr("x2", (d) => x(d)).attr("y1", top).attr("y2", bottom)
        .attr("stroke", GRID).attr("stroke-width", 1);
      g.selectAll(".hg").data(p.ticks).enter().append("line")
        .attr("x1", LEFT).attr("x2", RIGHT).attr("y1", (d) => y(d)).attr("y2", (d) => y(d))
        .attr("stroke", GRID).attr("stroke-width", 1.2);

      const data = g.append("g").attr("clip-path", `url(#${clipId})`);
      const area = d3.area<[number, number, number]>()
        .x((d) => x(d[0])).y0((d) => y(d[1])).y1((d) => y(d[2]));
      data.append("path").attr("d", area(p.band) || "")
        .attr("fill", "url(#noise)")
        .attr("stroke", BLUE).attr("stroke-width", 1.2).attr("stroke-linejoin", "round");

      // spike groups (split where samples are far apart)
      const groups: Pts[] = [];
      p.spikes.forEach((pt, k) => {
        if (k === 0 || pt[0] - p.spikes[k - 1][0] > 15) groups.push([]);
        groups[groups.length - 1].push(pt);
      });
      const line = d3.line<[number, number]>().x((d) => x(d[0])).y((d) => y(d[1]));
      groups.forEach((gr) => {
        data.append("path").attr("d", line(gr) || "")
          .attr("fill", "none").attr("stroke", BLUE).attr("stroke-width", 1.3)
          .attr("stroke-linejoin", "round");
      });

      // dashed marker
      g.append("line")
        .attr("x1", x(DASH_X)).attr("x2", x(DASH_X))
        .attr("y1", y(p.dash[1])).attr("y2", y(p.dash[0]))
        .attr("stroke", ORANGE).attr("stroke-width", 1.6).attr("stroke-dasharray", "7,3.5");

      // frame
      g.append("rect").attr("x", LEFT).attr("y", top).attr("width", RIGHT - LEFT).attr("height", PH)
        .attr("fill", "none").attr("stroke", "#000").attr("stroke-width", 1.2);

      // x tick marks
      g.selectAll(".xt").data(X_TICKS).enter().append("line")
        .attr("x1", (d) => x(d)).attr("x2", (d) => x(d)).attr("y1", bottom).attr("y2", bottom + TICK)
        .attr("stroke", "#000").attr("stroke-width", 1.1);
      // y ticks
      g.selectAll(".yt").data(p.ticks).enter().append("line")
        .attr("x1", LEFT - TICK).attr("x2", LEFT).attr("y1", (d) => y(d)).attr("y2", (d) => y(d))
        .attr("stroke", "#000").attr("stroke-width", 1.1);
      g.selectAll(".yl").data(p.ticks).enter().append("text")
        .attr("x", LEFT - TICK - 13).attr("y", (d) => y(d) + FS * 0.32)
        .attr("text-anchor", "end").attr("font-family", FONT).attr("font-size", FS)
        .attr("fill", "#000").text((d) => fmt(d));

      // y label
      const lg = g.append("g").attr("transform", `translate(${p.baseX},${(top + bottom) / 2}) rotate(-90)`);
      const txt = lg.append("text").attr("x", 0).attr("y", 0).attr("text-anchor", "middle")
        .attr("font-family", FONT).attr("font-size", 30).attr("fill", "#000");
      p.label.forEach((part) => {
        const ts = txt.append("tspan").text(part.t);
        if (part.it) ts.attr("font-style", "italic");
        if (part.sub) ts.attr("font-size", 21).attr("dy", 6);
      });
      if (p.bar) {
        const node = txt.node() as SVGTextElement;
        const bb = node.getBBox();
        lg.append("line").attr("x1", bb.x).attr("x2", bb.x + bb.width)
          .attr("y1", -28).attr("y2", -28)
          .attr("stroke", "#000").attr("stroke-width", 1.3);
      }

      if (i === PANELS.length - 1) {
        g.selectAll(".xl").data(X_TICKS).enter().append("text")
          .attr("x", (d) => x(d)).attr("y", bottom + 47)
          .attr("text-anchor", "middle").attr("font-family", FONT).attr("font-size", 30)
          .attr("fill", "#000").text((d) => String(d));
        g.append("text").attr("x", (LEFT + RIGHT) / 2).attr("y", bottom + 87)
          .attr("text-anchor", "middle").attr("font-family", FONT).attr("font-size", 30)
          .attr("fill", "#000").text("Evaluation");
      }
    });
  }, []);

  return (
    <svg ref={ref} width={W} height={H}
      style={{ position: "absolute", left: 0, top: 0, background: "#fff" }} />
  );
}
